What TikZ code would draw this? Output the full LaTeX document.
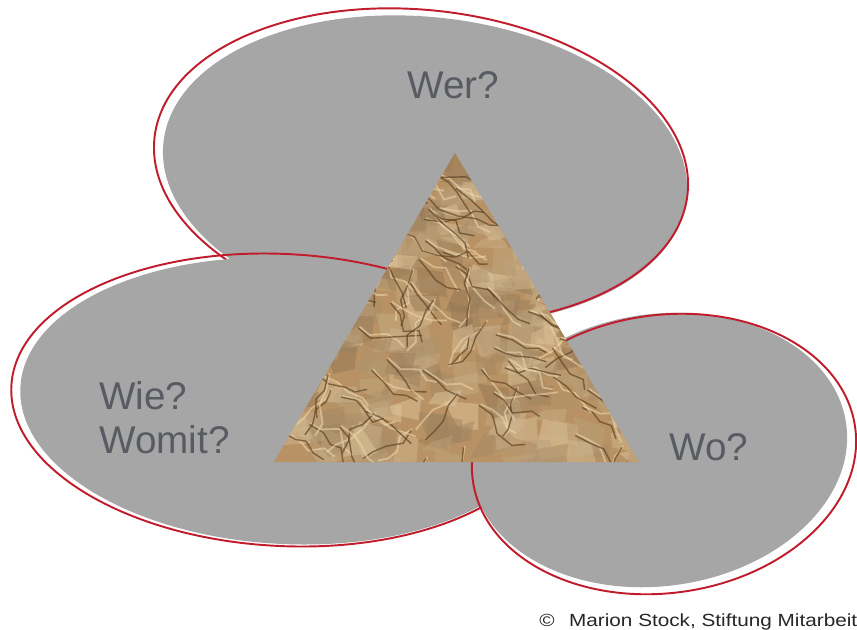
\documentclass[tikz,border=0pt]{standalone}
\usepackage{fontspec}
\setmainfont{Liberation Sans}

\definecolor{blobgray}{RGB}{166,166,166}
\definecolor{rimred}{RGB}{192,28,44}
\definecolor{asktext}{RGB}{88,92,98}
\definecolor{paper}{RGB}{184,146,100}
\definecolor{paperdark}{RGB}{96,68,38}
\definecolor{paperlight}{RGB}{236,212,170}

\tikzset{
    blob/.style={fill=blobgray},
    rim/.style={draw=rimred, line width=1.1pt},
    asklabel/.style={anchor=base west, inner sep=0pt, text=asktext,
        font=\fontsize{22}{25}\selectfont, align=left},
}

\begin{document}
\begin{tikzpicture}[x=0.02cm, y=-0.02cm]
    \useasboundingbox (0,0) rectangle (857,629);

    % Wer? (top)
    \fill[blob, rotate around={-6:(425,170)}] (425,170) ellipse [x radius=263, y radius=153];
    \draw[rim, rotate around={-6:(421,166)}] (421,166) ellipse [x radius=268, y radius=156];

    % Wie? Womit? (left)
    \fill[blob, rotate around={-3:(286,401)}] (286,401) ellipse [x radius=266, y radius=143];
    \draw[rim, rotate around={-3:(283,400)}] (283,400) ellipse [x radius=272, y radius=146];

    % Wo? (right)
    \fill[blob, rotate around={8:(659,450)}] (659,450) ellipse [x radius=189, y radius=136];
    \draw[rim, rotate around={8:(664,454)}] (664,454) ellipse [x radius=193, y radius=139];

    % crumpled paper triangle
    \coordinate (apex) at (455,153);
    \coordinate (bl) at (274,462);
    \coordinate (br) at (639,462);
    \begin{scope}
        \clip (apex) -- (bl) -- (br) -- cycle;
        \fill[paper] (270,150) rectangle (642,465);
        \pgfmathsetseed{23}
        % facets
        \foreach \i in {1,...,360} {
            \pgfmathsetmacro{\cx}{268+376*rnd}
            \pgfmathsetmacro{\cy}{148+320*rnd}
            \pgfmathtruncatemacro{\lv}{30+65*rnd}
            \fill[paperlight!\lv!paperdark, opacity=0.45]
                (\cx,\cy) -- ++(-20+40*rnd:18+18*rnd) -- ++(70+40*rnd:12+16*rnd)
                -- ++(160+40*rnd:18+18*rnd) -- cycle;
        }
        % creases
        \foreach \i in {1,...,110} {
            \pgfmathsetmacro{\cx}{268+376*rnd}
            \pgfmathsetmacro{\cy}{148+320*rnd}
            \pgfmathsetmacro{\ang}{10+40*rnd+ifthenelse(rnd>0.75,90,0)}
            \draw[paperlight, line width=1pt, opacity=0.6, line join=round]
                (\cx+1.3,\cy-1.3) -- ++(\ang:10+10*rnd) -- ++(\ang+80*rnd-40:10+10*rnd)
                -- ++(\ang+80*rnd-40:10+10*rnd) -- ++(\ang+80*rnd-40:8+8*rnd);
            \draw[paperdark, line width=0.8pt, opacity=0.7, line join=round]
                (\cx,\cy) -- ++(\ang:10+10*rnd) -- ++(\ang+80*rnd-40:10+10*rnd)
                -- ++(\ang+80*rnd-40:10+10*rnd) -- ++(\ang+80*rnd-40:8+8*rnd);
        }
    \end{scope}

    \node[asklabel] (wer) at (407,98) {Wer?};
    \node[asklabel, anchor=north west] (wie) at (99,381) {Wie?\\Womit?};
    \node[asklabel] (wo) at (669,460) {Wo?};

    \node[anchor=base west, inner sep=0pt, text=black!85,
        font=\fontsize{10}{12}\selectfont] (copy) at (539,626)
        {\scalebox{1.18}[1]{©\hspace{0.7em}Marion Stock, Stiftung Mitarbeit}};
\end{tikzpicture}
\end{document}
